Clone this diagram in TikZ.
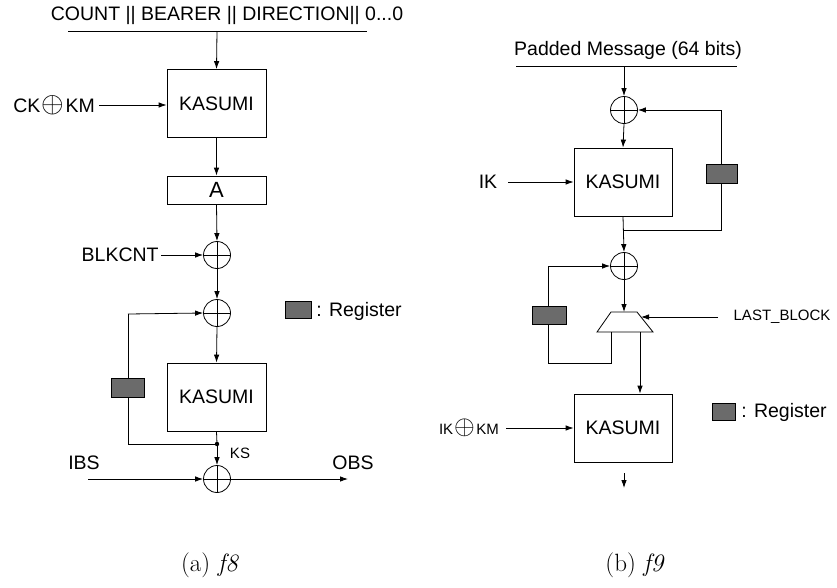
\documentclass[tikz,border=0pt]{standalone}
\usepackage{fontspec}
\setmainfont{Liberation Sans}
\newfontfamily\capfont{Latin Modern Roman}
\usetikzlibrary{arrows.meta}
% circled plus used inside key labels
\newcommand{\xorsym}[1]{\hspace{1pt}\raisebox{0.02em}{\scalebox{#1}{$\oplus$}}\hspace{1.5pt}}
\begin{document}
\begin{tikzpicture}[x=1pt,y=-1pt,
  line width=0.8pt,
  arr/.style={-{Latex[length=8pt,width=5.5pt]}},
  kbox/.style={draw,minimum width=99pt,minimum height=68pt,inner sep=0pt,font=\fontsize{19.5}{21}\selectfont},
  xorn/.style={draw,circle,minimum size=27pt,inner sep=0pt,
    path picture={\draw (path picture bounding box.north)--(path picture bounding box.south)
      (path picture bounding box.west)--(path picture bounding box.east);}},
  reg/.style={draw,fill=black!58,inner sep=0pt},
  lbl/.style={inner sep=0pt,font=\fontsize{19.5}{21}\selectfont},
  slbl/.style={inner sep=0pt,font=\fontsize{15}{17}\selectfont},
  captext/.style={inner sep=0pt,font=\capfont\fontsize{25}{28}\selectfont}]
\useasboundingbox (0,0) rectangle (837,587);

% ---------------- f8 ----------------
\node[lbl] (t8) at (227,15) {COUNT || BEARER || DIRECTION|| 0...0};
\coordinate (t8a) at (68,31);
\coordinate (t8b) at (367,31);
\coordinate (t8m) at (217,31);
\draw (t8a) -- (t8b);

\node[kbox] (k1) at (216.5,103.5) {KASUMI};
\node[draw,minimum width=99pt,minimum height=28pt,inner sep=0pt,font=\fontsize{22}{24}\selectfont] (A) at (216.5,190) {A};
\node[xorn] (x1) at (217,255) {};
\node[xorn] (x2) at (217,313) {};
\node[kbox] (k2) at (216.5,397) {KASUMI};
\node[xorn] (x3) at (217,479) {};
\fill (217,444) circle (2.2pt) coordinate (ks);
\coordinate (fbl) at (128,444);
\coordinate (fbt) at (128,314);

\node[lbl,anchor=west] (ckkm) at (13,105) {CK\xorsym{1.4}KM};
\node[lbl,anchor=east] (blk) at (159,255) {BLKCNT};
\node[slbl] (kslbl) at (240,453) {KS};
\node[lbl] (ibs) at (84,463) {IBS};
\node[lbl] (obs) at (353,463) {OBS};
\coordinate (ibsin) at (88,479);
\coordinate (obsout) at (348,479);

\draw[arr] (t8m) -- (k1.north);
\draw[arr] (99,105) -- (k1.west |- 0,105);
\draw[arr] (k1.south) -- (A.north);
\draw[arr] (A.south) -- (x1.north);
\draw[arr] (blk.east) ++(2,0) -- (x1.west);
\draw[arr] (x1.south) -- (x2.north);
\draw[arr] (x2.south) -- (k2.north);
\draw (k2.south) -- (ks);
\draw[arr] (ks) -- (x3.north);
\draw (ks) -- (fbl) -- (fbt);
\draw[arr] (fbt) -- (x2.west);
\draw[arr] (ibsin) -- (x3.west);
\draw[arr] (x3.east) -- (obsout);
\node[reg,minimum width=33pt,minimum height=19pt] (r1) at (128,387.5) {};

\node[reg,minimum width=26pt,minimum height=17pt] (leg1) at (298,309.5) {};
\node[lbl,anchor=west] (leg1t) at (316,311) {: Register};

\node[captext] (c8) at (210,565) {(a) \textit{f8}};

% ---------------- f9 ----------------
\node[lbl] (t9) at (628,50) {Padded Message (64 bits)};
\coordinate (t9a) at (516,66);
\coordinate (t9b) at (737,66);
\coordinate (t9m) at (624,66);
\draw (t9a) -- (t9b);

\node[xorn] (y1) at (624,110) {};
\node[kbox,minimum width=98pt] (k3) at (623,182) {KASUMI};
\node[xorn] (y2) at (624,266) {};
\coordinate (fr1) at (624,230);
\coordinate (fr2) at (721,230);
\coordinate (fr3) at (721,110);

\node[lbl] (ik) at (488,182) {IK};

% selector
\coordinate (mTL) at (611,312);
\coordinate (mTR) at (637,312);
\coordinate (mBR) at (653,332);
\coordinate (mBL) at (597,332);
\coordinate (mTop) at (624,312);
\coordinate (mIn) at (641,317);
\coordinate (mFb) at (611,332);
\coordinate (mOut) at (640,332);
\draw (mTL) -- (mTR) -- (mBR) -- (mBL) -- cycle;

\coordinate (fl1) at (611,363);
\coordinate (fl2) at (548,363);
\coordinate (fl3) at (548,266);

\node[slbl] (lb) at (782,317) {LAST\_BLOCK};
\coordinate (lbin) at (718,317);

\node[kbox,minimum width=98pt] (k4) at (623,428) {KASUMI};
\node[slbl] (ikkm) at (469,428) {IK\xorsym{1.85}KM};
\coordinate (o1) at (624,473);
\coordinate (o2) at (624,488);

\draw[arr] (t9m) -- (y1.north);
\draw[arr] (y1.south) -- (k3.north);
\draw[arr] (508,182) -- (k3.west);
\draw[arr] (k3.south) -- (y2.north);
\draw (fr1) -- (fr2) -- (fr3);
\draw[arr] (fr3) -- (y1.east);
\draw[arr] (y2.south) -- (mTop);
\draw (mFb) -- (fl1) -- (fl2) -- (fl3);
\draw[arr] (fl3) -- (y2.west);
\draw[arr] (lbin) -- (mIn);
\draw[arr] (mOut) -- (mOut |- k4.north);
\draw[arr] (506,428) -- (k4.west);
\draw[arr] (o1) -- (o2);

\node[reg,minimum width=31pt,minimum height=19pt] (r2) at (722,173.5) {};
\node[reg,minimum width=34pt,minimum height=18pt] (r3) at (549,315) {};

\node[reg,minimum width=23pt,minimum height=17pt] (leg2) at (723.5,411.5) {};
\node[lbl,anchor=west] (leg2t) at (741,412) {: Register};

\node[captext] (c9) at (635,565) {(b) \textit{f9}};
\end{tikzpicture}
\end{document}
